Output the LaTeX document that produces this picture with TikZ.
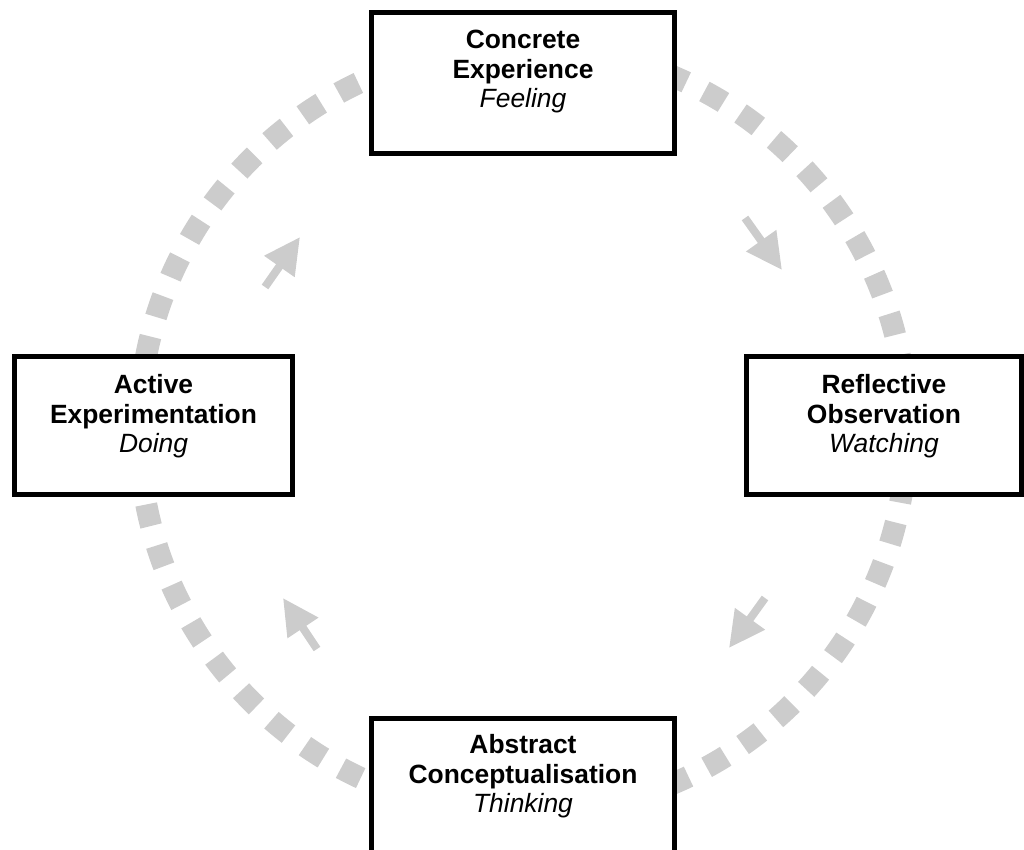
\documentclass[tikz,border=0pt]{standalone}
\usepackage{fontspec}
\setmainfont{Liberation Sans}
\usepackage{xcolor}
\usetikzlibrary{arrows.meta,positioning}
\definecolor{cyclegray}{HTML}{CCCCCC}

\begin{document}
\begin{tikzpicture}[auto, x=0.5pt, y=-0.5pt,
    stage/.style={draw, line width=2.5pt, fill=white, inner sep=0pt},
    stagetext/.style={align=center, inner sep=0pt, font=\fontsize{13.2}{14.75}\selectfont},
    flow/.style={cyclegray, line width=4pt, -{Triangle[width=17.5pt,length=18pt]}}]
    \useasboundingbox (0,0) rectangle (1024,850);
    % the learning cycle
    \draw [cyclegray, line width=11pt, dash pattern=on 11pt off 10.17pt, dash phase=16.8pt] (523,430) circle [radius=384];
    \node [stage, minimum width=151.5pt, minimum height=70.5pt] (ce) at (523, 83) {};
    \node [stage, minimum width=137.5pt, minimum height=69pt] (ro) at (884, 425.5) {};
    \node [stage, minimum width=151.5pt, minimum height=70.5pt] (ac) at (523, 789) {};
    \node [stage, minimum width=139pt, minimum height=69pt] (ae) at (153.5, 425.5) {};
    \node [stagetext, below=10pt of ce.north] (ceText) {\textbf{Concrete}\\\textbf{Experience}\\\textit{Feeling}};
    \node [stagetext, below=10pt of ro.north] (roText) {\textbf{Reflective}\\\textbf{Observation}\\\textit{Watching}};
    \node [stagetext, below=9pt of ac.north] (acText) {\textbf{Abstract}\\\textbf{Conceptualisation}\\\textit{Thinking}};
    \node [stagetext, below=10pt of ae.north] (aeText) {\textbf{Active}\\\textbf{Experimentation}\\\textit{Doing}};
    % direction arrows
    \coordinate (a1s) at (745, 218);
    \coordinate (a1e) at (782, 270);
    \coordinate (a2s) at (765, 598);
    \coordinate (a2e) at (729, 648);
    \coordinate (a3s) at (317, 649);
    \coordinate (a3e) at (283, 598);
    \coordinate (a4s) at (265, 287);
    \coordinate (a4e) at (300, 237);
    \draw [flow] (a1s) to (a1e);
    \draw [flow] (a2s) to (a2e);
    \draw [flow] (a3s) to (a3e);
    \draw [flow] (a4s) to (a4e);
\end{tikzpicture}
\end{document}
